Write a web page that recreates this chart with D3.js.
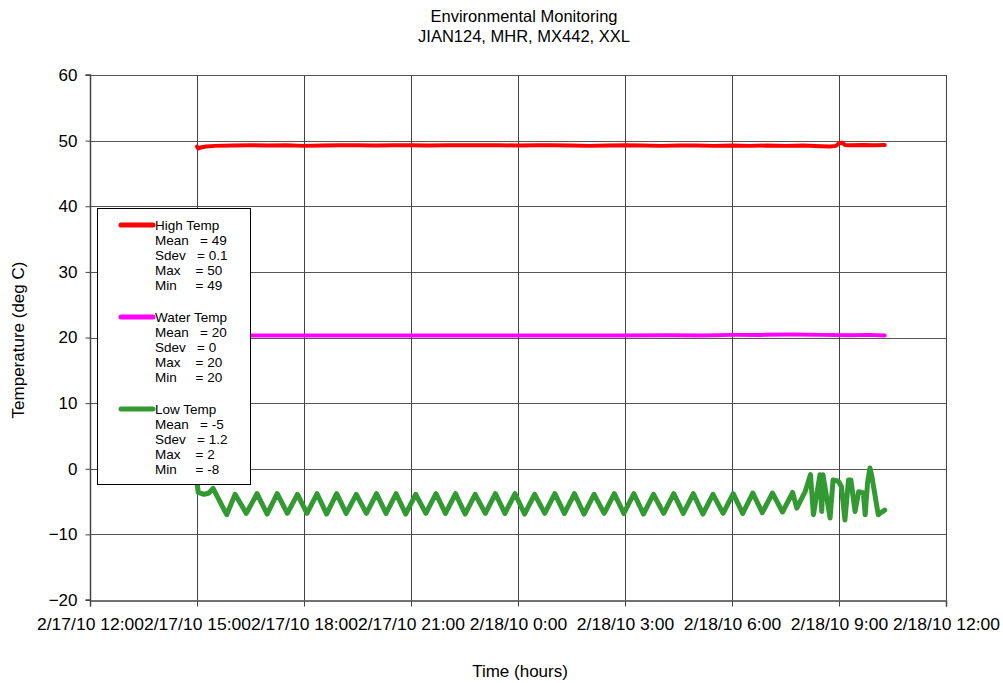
<!DOCTYPE html>
<html><head><meta charset="utf-8">
<script src="https://cdn.jsdelivr.net/npm/d3@7"></script>
<style>
html,body{margin:0;padding:0;background:#fff;}
text{font-family:"Liberation Sans",Arial,sans-serif;fill:#000;}
</style></head>
<body><svg id="c" width="1003" height="683"></svg>
<script>
// ---------- data ----------
const titleLines = ["Environmental Monitoring", "JIAN124, MHR, MX442, XXL"];
const yTicks = [-20, -10, 0, 10, 20, 30, 40, 50, 60];
const startTime = new Date(2010, 1, 17, 15, 0); // first sample, minutes below are offsets from here

// High Temp
const highMinutes = [0, 2, 8, 15, 30, 60, 90, 120, 150, 180, 210, 240, 270, 300, 330, 360, 390, 420, 450, 480, 510, 540, 570, 600, 630, 660, 690, 720, 750, 780, 810, 840, 870, 900, 930, 960, 990, 1020, 1050, 1065, 1075, 1080, 1085, 1090, 1100, 1120, 1140, 1157];
const highValues  = [49.1, 48.8, 49.0, 49.1, 49.2, 49.25, 49.3, 49.25, 49.3, 49.2, 49.25, 49.3, 49.3, 49.25, 49.3, 49.3, 49.25, 49.3, 49.3, 49.3, 49.3, 49.25, 49.3, 49.3, 49.25, 49.2, 49.25, 49.3, 49.25, 49.2, 49.25, 49.25, 49.2, 49.25, 49.2, 49.25, 49.2, 49.25, 49.15, 49.1, 49.2, 49.6, 49.7, 49.35, 49.3, 49.35, 49.3, 49.35];

// Water Temp
const waterMinutes = [0, 100, 200, 300, 400, 500, 600, 700, 800, 850, 900, 950, 1000, 1050, 1100, 1130, 1157];
const waterValues  = [20.3, 20.3, 20.3, 20.3, 20.3, 20.3, 20.3, 20.3, 20.35, 20.3, 20.4, 20.4, 20.45, 20.4, 20.35, 20.4, 20.3];

// Low Temp
const lowMinutes = [0, 2, 12, 20, 27, 50,
  64, 83, 101, 118, 135, 152, 169, 185, 202, 218, 235, 251, 268, 285, 302, 318, 335, 351, 368, 385,
  402, 418, 435, 451, 468, 485, 502, 518, 535, 551, 568, 585, 602, 618, 635, 651, 668, 685, 702, 718,
  735, 751, 768, 785, 802, 818, 835, 851, 868, 885, 902, 918, 935, 951, 968, 985, 1002,
  1009, 1023, 1032, 1037, 1048, 1051, 1053, 1065, 1070, 1079, 1084, 1090, 1096, 1100, 1107, 1113,
  1121, 1124, 1128, 1132, 1135, 1146, 1152, 1157];
const lowValues = [-2.0, -3.6, -3.9, -3.7, -3.0, -7.0,
  -3.9, -6.8, -3.8, -6.9, -3.8, -6.8, -3.9, -6.8, -3.8, -6.9, -3.8, -6.8, -3.9, -6.8, -3.8, -6.8, -3.8, -6.9, -3.9, -6.8,
  -3.8, -6.8, -3.8, -6.9, -3.9, -6.8, -3.8, -6.8, -3.8, -6.9, -3.9, -6.8, -3.8, -6.8, -3.8, -6.9, -3.9, -6.8, -3.8, -6.8,
  -3.8, -6.9, -3.9, -6.8, -3.8, -6.8, -3.8, -6.9, -3.9, -6.8, -3.8, -6.8, -3.7, -6.7, -3.7, -6.6, -3.6,
  -6.0, -3.5, -0.9, -7.0, -0.9, -6.5, -0.9, -7.5, -1.7, -1.9, -2.7, -7.8, -1.7, -1.7, -6.5, -3.5,
  -3.7, -7.0, -2.2, 0.1, -1.0, -7.0, -6.6, -6.3];

const legendItems = [
  {name: "High Temp",  color: "#ff0000", stats: ["Mean   = 49", "Sdev   = 0.1", "Max    = 50", "Min     = 49"]},
  {name: "Water Temp", color: "#ff00ff", stats: ["Mean   = 20", "Sdev   = 0", "Max    = 20", "Min     = 20"]},
  {name: "Low Temp",   color: "#339933", stats: ["Mean   = -5", "Sdev   = 1.2", "Max    = 2", "Min     = -8"]}
];

// ---------- chart ----------
const svg = d3.select("#c");
const L = 90, R = 946, T = 75, B = 600;
const x = d3.scaleTime().domain([new Date(2010,1,17,12,0), new Date(2010,1,18,12,0)]).range([L, R]);
const y = d3.scaleLinear().domain([-20, 60]).range([B, T]);
const toDate = m => new Date(startTime.getTime() + m * 60000);
const fmt = d3.timeFormat("%-m/%-d/%y %-H:%M");
const xTicks = x.ticks(d3.timeHour.every(3));

// grid
const grid = svg.append("g").attr("shape-rendering", "crispEdges");
grid.selectAll(".h").data(yTicks.filter(v => v !== -20)).join("line")
  .attr("x1", L).attr("x2", R).attr("y1", d => Math.round(y(d)) + 0.5).attr("y2", d => Math.round(y(d)) + 0.5)
  .attr("stroke", "#555").attr("stroke-width", 1);
grid.selectAll(".v").data(xTicks.slice(1)).join("line")
  .attr("y1", T).attr("y2", B).attr("x1", d => Math.round(x(d)) + 0.5).attr("x2", d => Math.round(x(d)) + 0.5)
  .attr("stroke", "#444").attr("stroke-width", 1);

// axes
const yAxis = svg.append("g").attr("transform", `translate(${L + 0.5},0)`)
  .call(d3.axisLeft(y).tickValues(yTicks).tickSize(5).tickPadding(8).tickFormat(d3.format("d")));
const xAxis = svg.append("g").attr("transform", `translate(0,${B + 0.5})`)
  .call(d3.axisBottom(x).tickValues(xTicks).tickSize(6).tickPadding(11).tickFormat(fmt));
[yAxis, xAxis].forEach(a => {
  a.select(".domain").attr("stroke", "#444").attr("stroke-width", 1.5);
  a.selectAll(".tick line").attr("stroke", "#444");
  a.selectAll("text").attr("font-size", 17).attr("font-family", "Liberation Sans, Arial, sans-serif").attr("fill", "#000");
});
yAxis.select(".domain").attr("d", `M-5,${B}H0V${T}H-5`);
xAxis.selectAll(".tick text").attr("transform", "scale(1.03,1)");

// lines
const line = d3.line().x(d => x(d[0])).y(d => y(d[1]));
const series = [
  {m: highMinutes,  v: highValues,  color: "#ff0000", w: 4},
  {m: waterMinutes, v: waterValues, color: "#ff00ff", w: 4},
  {m: lowMinutes,   v: lowValues,   color: "#339933", w: 5}
];
series.forEach(s => {
  svg.append("path").datum(s.m.map((m, i) => [toDate(m), s.v[i]]))
    .attr("d", line).attr("fill", "none").attr("stroke", s.color)
    .attr("stroke-width", s.w).attr("stroke-linejoin", "round").attr("stroke-linecap", "round");
});

// legend
const lg = svg.append("g");
lg.append("rect").attr("x", 97.5).attr("y", 208.5).attr("width", 153).attr("height", 276)
  .attr("fill", "#fff").attr("stroke", "#000").attr("stroke-width", 1);
legendItems.forEach((it, i) => {
  const y0 = 225 + i * 92;
  lg.append("line").attr("x1", 121).attr("x2", 153).attr("y1", y0).attr("y2", y0)
    .attr("stroke", it.color).attr("stroke-width", 5).attr("stroke-linecap", "round");
  lg.append("text").attr("x", 155).attr("y", y0 + 4.5).attr("font-size", 13.5).text(it.name);
  it.stats.forEach((s, j) => {
    lg.append("text").attr("x", 155).attr("y", y0 + 4.5 + 15.2 * (j + 1)).attr("font-size", 13.5)
      .attr("xml:space", "preserve").style("white-space", "pre").text(s);
  });
});

// titles
svg.selectAll(".title").data(titleLines).join("text")
  .attr("x", 524).attr("y", (d, i) => 22 + i * 20).attr("text-anchor", "middle").attr("font-size", 16.5).text(d => d);
svg.append("text").attr("x", 520).attr("y", 677).attr("text-anchor", "middle").attr("font-size", 17).text("Time (hours)");
svg.append("text").attr("transform", "translate(24,340) rotate(-90)").attr("text-anchor", "middle")
  .attr("font-size", 17).text("Temperature (deg C)");
</script></body></html>
